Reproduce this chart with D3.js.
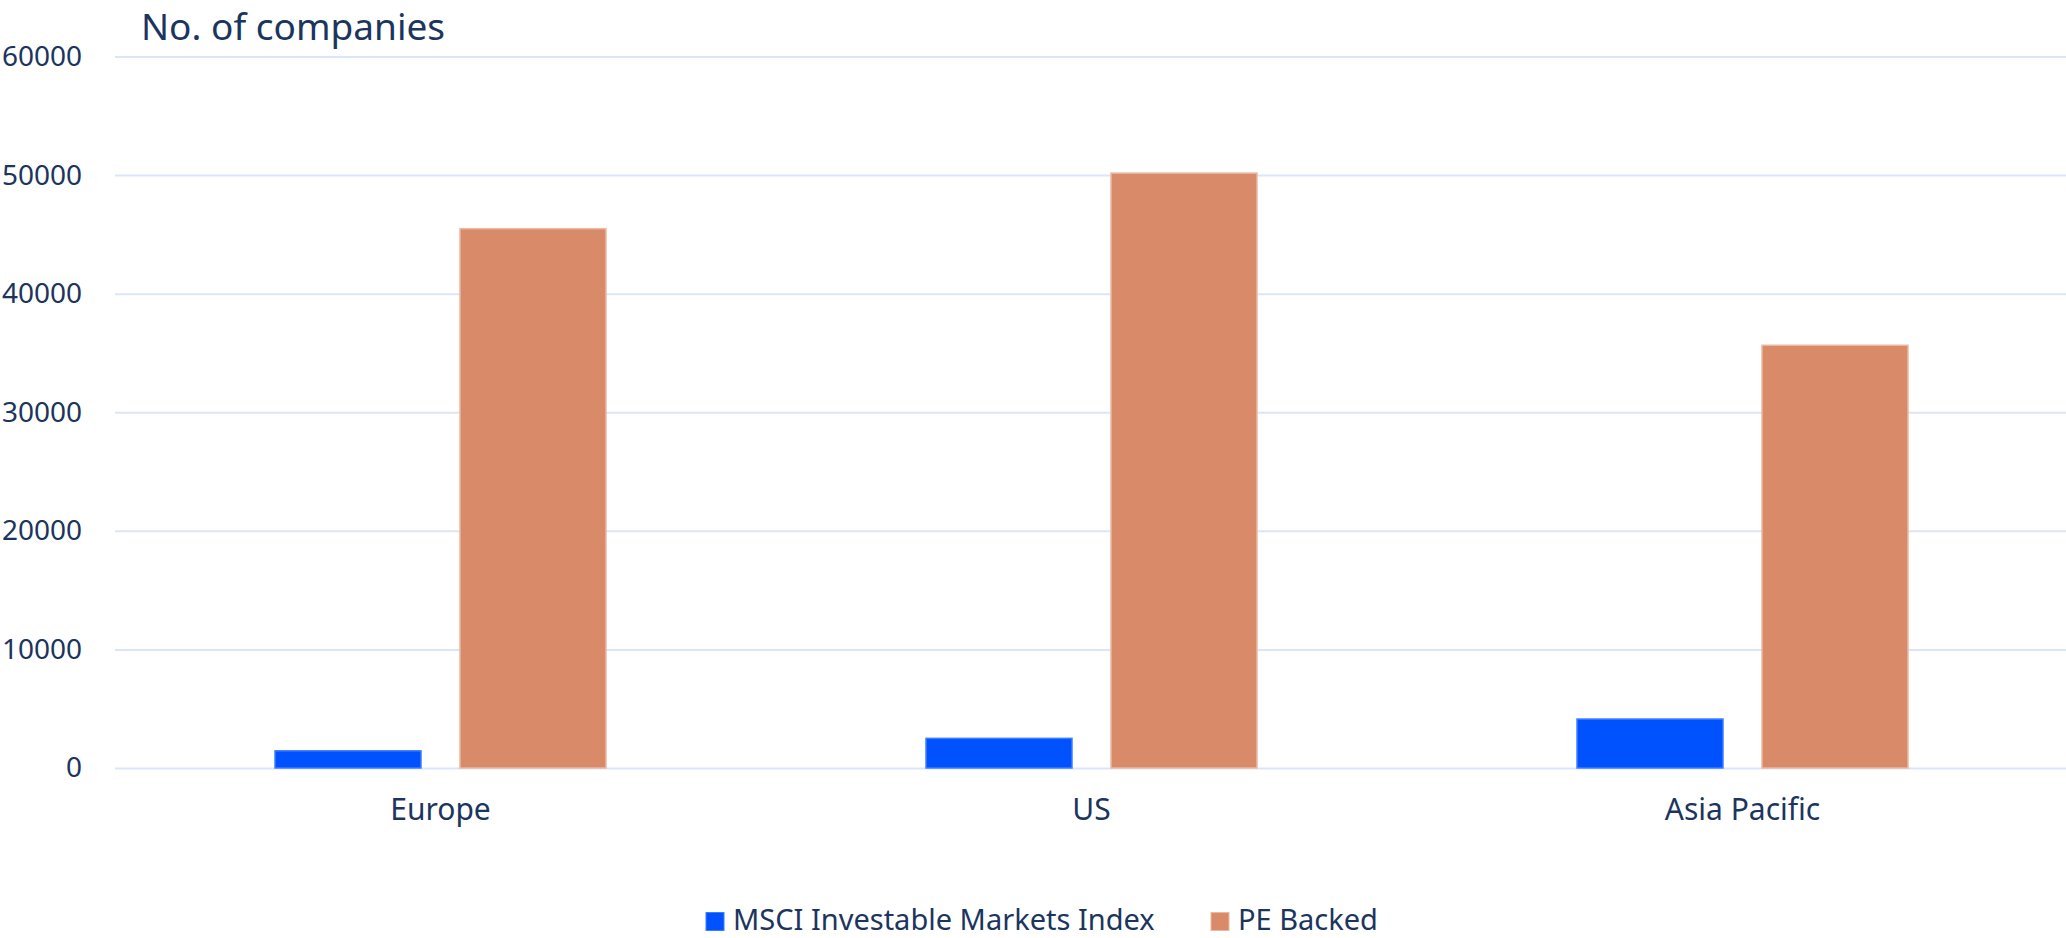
<!DOCTYPE html>
<html>
<head>
<meta charset="utf-8">
<script src="https://cdn.jsdelivr.net/npm/d3@7"></script>
<style>
  html, body { margin: 0; padding: 0; background: #fff; }
  svg { display: block; }
  text { font-family: "Noto Sans", "Open Sans", sans-serif; fill: #1c355e; }
</style>
</head>
<body>
<svg id="chart" width="2066" height="938"></svg>
<script>
const categories = ["Europe", "US", "Asia Pacific"];
const seriesNames = ["MSCI Investable Markets Index", "PE Backed"];
const msciValues = [1450, 2500, 4130];
const peValues = [45480, 50170, 35650];
const yTicks = [0, 10000, 20000, 30000, 40000, 50000, 60000];
const yTitle = "No. of companies";

const colors = { "MSCI Investable Markets Index": "#0052ff", "PE Backed": "#d88a69" };
const strokes = { "MSCI Investable Markets Index": "#3f7dff", "PE Backed": "#ebb9a3" };

const W = 2066, H = 938;
const plot = { left: 115, right: 2068, top: 56.5, bottom: 768 };

const svg = d3.select("#chart");

const x0 = d3.scaleBand().domain(categories).range([plot.left, plot.right]).padding(0);
const x1 = d3.scaleBand().domain(seriesNames).range([0, x0.bandwidth()])
  .paddingInner(0.2108).paddingOuter(0.865);
const y = d3.scaleLinear().domain([0, 60000]).range([plot.bottom, plot.top]);

// gridlines
const yAxis = d3.axisLeft(y).tickValues(yTicks).tickFormat(d3.format("d"))
  .tickSize(-(plot.right - plot.left)).tickPadding(33);
const gy = svg.append("g").attr("transform", `translate(${plot.left},0)`).call(yAxis);
gy.select(".domain").remove();
gy.selectAll(".tick line").attr("stroke", "#dbe5fa").attr("stroke-width", 2);
gy.selectAll(".tick text").attr("font-size", 28).attr("fill", "#1c355e")
  .attr("font-family", "Noto Sans, Open Sans, sans-serif");

// data
const rows = categories.map((c, i) => ({ cat: c, vals: [
  { s: seriesNames[0], v: msciValues[i] },
  { s: seriesNames[1], v: peValues[i] }
]}));

const groups = svg.append("g").selectAll("g").data(rows).join("g")
  .attr("transform", d => `translate(${x0(d.cat)},0)`);
groups.selectAll("rect").data(d => d.vals).join("rect")
  .attr("x", d => x1(d.s))
  .attr("width", x1.bandwidth())
  .attr("y", d => y(d.v))
  .attr("height", d => y(0) - y(d.v))
  .attr("fill", d => colors[d.s])
  .attr("stroke", d => strokes[d.s])
  .attr("stroke-width", 1.5);

// x axis labels
const xAxis = d3.axisBottom(x0).tickSize(0).tickPadding(31);
const gx = svg.append("g").attr("transform", `translate(0,${plot.bottom})`).call(xAxis);
gx.select(".domain").remove();
gx.selectAll(".tick text").attr("font-size", 30).attr("fill", "#1c355e")
  .attr("font-family", "Noto Sans, Open Sans, sans-serif");

// title
svg.append("text").attr("x", 141).attr("y", 39.6).attr("font-size", 37).text(yTitle);

// legend
const legend = svg.append("g").attr("transform", "translate(706,0)");
const legendX = [0, 505];
seriesNames.forEach((s, i) => {
  const g = legend.append("g").attr("transform", `translate(${legendX[i]},0)`);
  g.append("rect").attr("x", 0).attr("y", 912.5).attr("width", 18).attr("height", 18)
    .attr("fill", colors[s]).attr("stroke", strokes[s]).attr("stroke-width", 1);
  g.append("text").attr("x", 27).attr("y", 929.5).attr("font-size", 29).text(s);
});
</script>
</body>
</html>
